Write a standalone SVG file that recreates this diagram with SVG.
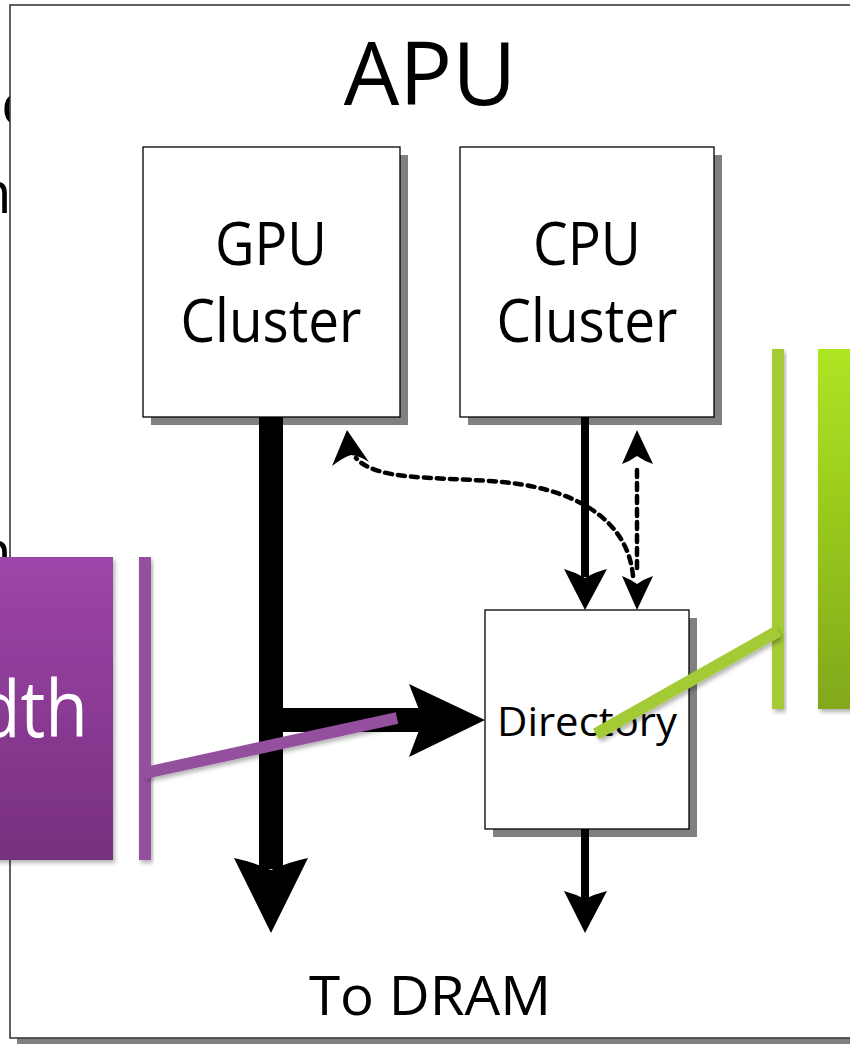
<svg xmlns="http://www.w3.org/2000/svg" width="850" height="1044" viewBox="0 0 850 1044">
  <defs>
    <style>
      .lbl { font-family: "Open Sans", "Noto Sans", "Liberation Sans", sans-serif; fill: #000; }
      .box { fill: #fff; stroke: #000; stroke-width: 1.3; }
      .shadow { fill: #808080; }
      .dash { fill: none; stroke: #000; stroke-width: 4.5; stroke-dasharray: 7 6; stroke-linecap: round; }
      .head { fill: #000; }
    </style>
    <linearGradient id="purpleFill" x1="0" y1="0" x2="0" y2="1">
      <stop offset="0" stop-color="#9E45A9"/>
      <stop offset="1" stop-color="#77307F"/>
    </linearGradient>
    <linearGradient id="greenFill" x1="0" y1="0" x2="0" y2="1">
      <stop offset="0" stop-color="#AEE522"/>
      <stop offset="1" stop-color="#82A81A"/>
    </linearGradient>
    <filter id="soft" x="-20%" y="-20%" width="140%" height="140%">
      <feDropShadow dx="2" dy="3" stdDeviation="2" flood-color="#000" flood-opacity="0.3"/>
    </filter>
  </defs>

  <!-- slide text behind the APU panel -->
  <g id="backdrop-text" class="lbl">
    <text x="1" y="125" font-size="60">c</text>
    <text x="-24" y="213" font-size="58">n</text>
    <text x="-24" y="572" font-size="58">n</text>
  </g>

  <!-- APU panel -->
  <g id="apu">
    <rect x="17" y="12" width="850" height="1032" class="shadow"/>
    <rect x="10" y="5" width="850" height="1033" fill="#fff" stroke="#3a3a3a" stroke-width="1.6"/>
    <text x="430" y="105" font-size="88" text-anchor="middle" class="lbl">APU</text>
    <text x="430" y="1015" font-size="54" text-anchor="middle" class="lbl" textLength="242" lengthAdjust="spacingAndGlyphs">To DRAM</text>
  </g>

  <g id="gpu-cluster">
    <rect x="151" y="155" width="257" height="270" class="shadow"/>
    <rect x="143" y="147" width="257" height="270" class="box"/>
    <text x="271" y="265" font-size="60" text-anchor="middle" class="lbl" textLength="112" lengthAdjust="spacingAndGlyphs">GPU</text>
    <text x="271" y="342" font-size="60" text-anchor="middle" class="lbl" textLength="181" lengthAdjust="spacingAndGlyphs">Cluster</text>
  </g>

  <g id="cpu-cluster">
    <rect x="468" y="155" width="254" height="270" class="shadow"/>
    <rect x="460" y="147" width="254" height="270" class="box"/>
    <text x="587" y="265" font-size="60" text-anchor="middle" class="lbl" textLength="108" lengthAdjust="spacingAndGlyphs">CPU</text>
    <text x="587" y="342" font-size="60" text-anchor="middle" class="lbl" textLength="181" lengthAdjust="spacingAndGlyphs">Cluster</text>
  </g>

  <g id="directory">
    <rect x="493" y="618" width="204" height="219" class="shadow"/>
    <rect x="485" y="610" width="204" height="219" class="box"/>
    <text x="587" y="736" font-size="41" text-anchor="middle" class="lbl" textLength="180" lengthAdjust="spacingAndGlyphs">Directory</text>
  </g>

  <g id="connectors">
    <!-- wide GPU path to DRAM -->
    <rect x="259" y="417" width="24" height="452" class="head"/>
    <path d="M234,858 Q253,862 271,870 Q289,862 308,858 L271,933 Z" class="head"/>
    <!-- wide GPU branch to the directory -->
    <rect x="283" y="708" width="140" height="24" class="head"/>
    <path d="M409,684 Q416,702 423,720 Q416,738 409,757 L485,720 Z" class="head"/>
    <!-- CPU to directory -->
    <rect x="581" y="417" width="8" height="160" class="head"/>
    <path d="M564,569 Q575,572 585,578 Q595,572 607,569 L585,610 Z" class="head"/>
    <!-- directory to DRAM -->
    <rect x="581" y="829" width="8" height="70" class="head"/>
    <path d="M564,891 Q575,894 585,899 Q595,894 607,891 L585,933 Z" class="head"/>
    <!-- coherence probes (dashed) -->
    <path d="M637,470 L637,572" class="dash"/>
    <path d="M622,464 Q630,461 637,456 Q644,461 653,464 L637,430 Z" class="head"/>
    <path d="M622,576 Q630,579 637,584 Q644,579 653,576 L637,610 Z" class="head"/>
    <path d="M633,576 C628,520 575,486 490,481 C430,477 375,480 356,458" class="dash"/>
    <path d="M332,466 Q342,458 351,455 Q360,456 369,462 L347,430 Z" class="head"/>
  </g>

  <!-- purple callout -->
  <g id="purple-callout">
    <rect x="-10" y="557" width="123" height="303" fill="url(#purpleFill)" filter="url(#soft)"/>
    <text x="-22" y="737" font-size="78" class="lbl" style="fill:#fff" textLength="110" lengthAdjust="spacingAndGlyphs">dth</text>
    <rect x="139" y="557" width="12" height="303" fill="#94509F" filter="url(#soft)"/>
    <line x1="145" y1="773" x2="397" y2="718" stroke="#94509F" stroke-width="12" filter="url(#soft)"/>
  </g>

  <!-- green callout -->
  <g id="green-callout">
    <rect x="818" y="349" width="40" height="360" fill="url(#greenFill)" filter="url(#soft)"/>
    <rect x="772" y="349" width="12" height="360" fill="#A4CB35" filter="url(#soft)"/>
    <line x1="596" y1="734" x2="778" y2="631" stroke="#A4CB35" stroke-width="12" filter="url(#soft)"/>
  </g>
</svg>
